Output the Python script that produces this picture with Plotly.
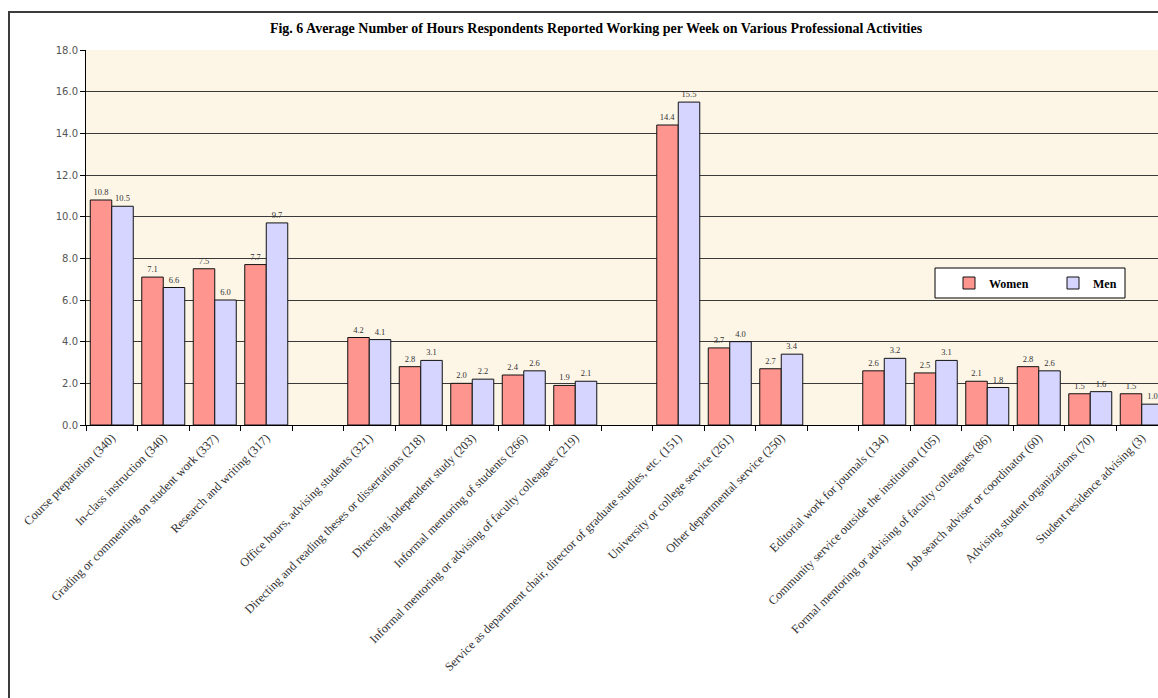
import plotly.graph_objects as go

# Activity groups (a blank slot separates consecutive groups on the axis)
teaching = ["Course preparation (340)", "In-class instruction (340)",
            "Grading or commenting on student work (337)", "Research and writing (317)"]
mentoring = ["Office hours, advising students (321)",
             "Directing and reading theses or dissertations (218)",
             "Directing independent study (203)", "Informal mentoring of students (266)",
             "Informal mentoring or advising of faculty colleagues (219)"]
service = ["Service as department chair, director of graduate studies, etc. (151)",
           "University or college service (261)", "Other departmental service (250)"]
other = ["Editorial work for journals (134)", "Community service outside the institution (105)",
         "Formal mentoring or advising of faculty colleagues (86)",
         "Job search adviser or coordinator (60)", "Advising student organizations (70)",
         "Student residence advising (3)"]

women = [10.8, 7.1, 7.5, 7.7, 4.2, 2.8, 2.0, 2.4, 1.9, 14.4, 3.7, 2.7,
         2.6, 2.5, 2.1, 2.8, 1.5, 1.5]
men = [10.5, 6.6, 6.0, 9.7, 4.1, 3.1, 2.2, 2.6, 2.1, 15.5, 4.0, 3.4,
       3.2, 3.1, 1.8, 2.6, 1.6, 1.0]

title = "Fig. 6 Average Number of Hours Respondents Reported Working per Week on Various Professional Activities"

# Slot positions along the category axis, leaving one empty slot between groups
labels, xpos = [], []
slot = 0
for g in [teaching, mentoring, service, other]:
    for name in g:
        labels.append(name)
        xpos.append(slot)
        slot += 1
    slot += 1

W, H = 1158, 698
ML, MT, MB = 86, 50, 273
plot_w = W - ML
plot_h = H - MT - MB
slot_px = 51.5
x_max = plot_w / slot_px - 0.5

serif = "Liberation Serif, Times New Roman, serif"
women_col = "#FF958F"
men_col = "#D5D5FF"


def px_x(px):
    return (px - ML) / plot_w


def px_y(py):
    return (H - MB - py) / plot_h


fig = go.Figure()
for name, vals, col, leg in [("Women", women, women_col, "legend"),
                             ("Men", men, men_col, "legend2")]:
    fig.add_trace(go.Bar(
        x=xpos, y=vals, name=name, legend=leg,
        marker=dict(color=col, line=dict(color="#111111", width=1)),
        text=[f"{v:.1f}" for v in vals], textposition="outside",
        textfont=dict(family=serif, size=8.5, color="#333333"),
        outsidetextfont=dict(family=serif, size=8.5, color="#333333"),
        cliponaxis=False,
    ))

legend_style = dict(orientation="h", yanchor="middle", xanchor="left",
                    bgcolor="rgba(0,0,0,0)", borderwidth=0,
                    font=dict(family=serif, size=12, color="black", weight="bold"))

fig.update_layout(
    width=W, height=H,
    margin=dict(l=ML, r=0, t=MT, b=MB, pad=0),
    paper_bgcolor="white",
    plot_bgcolor="#FDF6E7",
    barmode="group",
    bargap=0.165,
    bargroupgap=0,
    title=dict(text=f"<b>{title}</b>", x=596 / W, xanchor="center",
               y=1 - 28 / H, yanchor="middle",
               font=dict(family=serif, size=14, color="black")),
    showlegend=True,
    legend=dict(x=px_x(949), y=px_y(283), **legend_style),
    legend2=dict(x=px_x(1053), y=px_y(283), **legend_style),
    xaxis=dict(
        range=[-0.5, x_max],
        tickmode="array", tickvals=xpos, ticktext=labels,
        tickangle=-45, ticks="", showgrid=False, zeroline=False,
        showline=True, linecolor="black", linewidth=1,
        tickfont=dict(family=serif, size=12.3, color="#333333"),
        minor=dict(tick0=-0.5, dtick=1, ticks="outside", ticklen=5,
                   tickcolor="black", showgrid=False),
    ),
    yaxis=dict(
        range=[0, 18], dtick=2, tickformat=".1f",
        showgrid=True, gridcolor="#3a3a3a", gridwidth=1,
        zeroline=False, showline=True, linecolor="black", linewidth=1,
        ticks="outside", ticklen=5, tickcolor="black",
        tickfont=dict(family="DejaVu Sans, Verdana, sans-serif", size=10, color="#555555"),
    ),
    shapes=[
        # outer chart frame
        dict(type="rect", xref="paper", yref="paper",
             x0=px_x(9), x1=px_x(W + 20), y0=px_y(H + 20), y1=px_y(12),
             line=dict(color="#3c3c3c", width=2), fillcolor="rgba(0,0,0,0)", layer="above"),
        # legend box
        dict(type="rect", xref="paper", yref="paper",
             x0=px_x(935), x1=px_x(1125), y0=px_y(298), y1=px_y(268),
             line=dict(color="black", width=1), fillcolor="white", layer="above"),
    ],
)

fig.write_html("out.html")
